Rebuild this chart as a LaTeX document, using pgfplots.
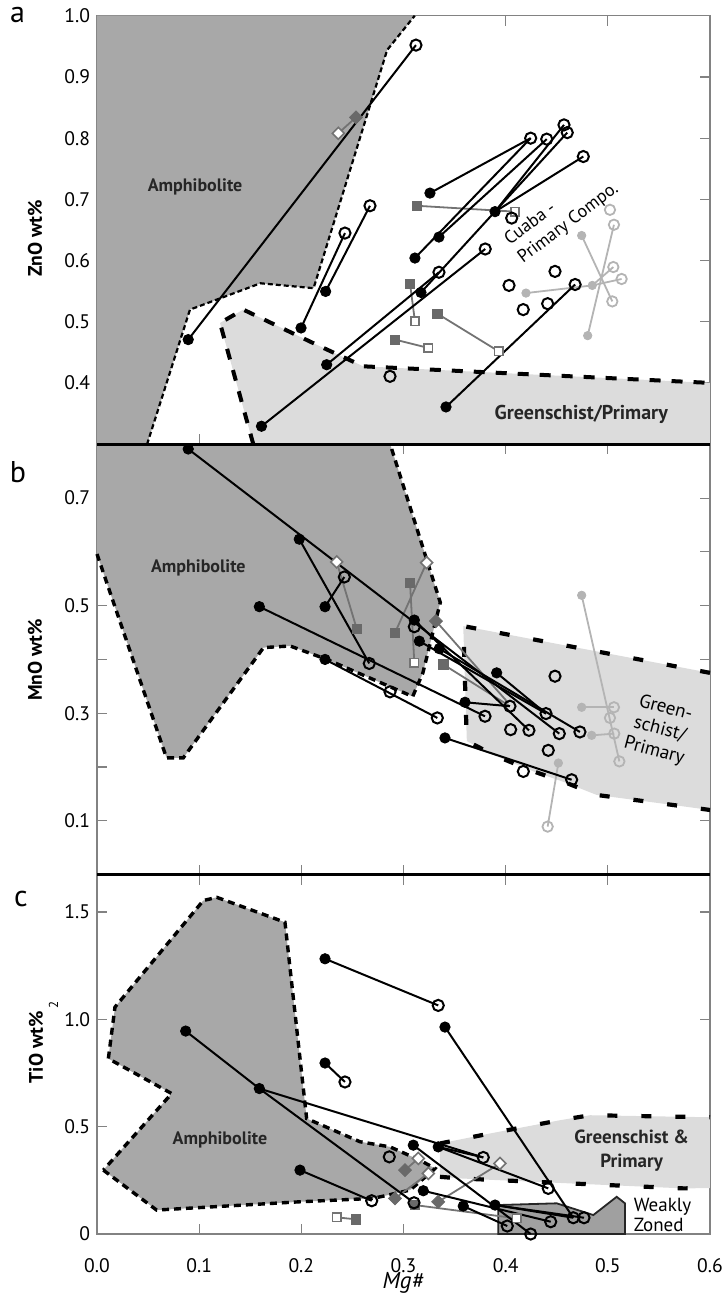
\documentclass[border=0pt]{standalone}
\usepackage{fontspec}
\setmainfont{PT Sans}
\usepackage{pgfplots}
\pgfplotsset{compat=1.18}
\definecolor{amph}{RGB}{168,168,168}
\definecolor{gsfill}{RGB}{220,220,220}
\definecolor{wzfill}{RGB}{160,160,160}
\definecolor{sqdark}{RGB}{105,105,105}
\definecolor{sqline}{RGB}{115,115,115}
\definecolor{lgray}{RGB}{180,180,180}
\definecolor{framegray}{RGB}{130,130,130}
\pgfplotsset{
 panel/.style={scale only axis, width=306.5pt, xmin=0, xmax=0.6, clip=false, anchor=south west,
   axis line style={draw=framegray, line width=0.6pt},
   tick style={draw=framegray, line width=0.6pt},
   major tick length=5pt, minor tick length=5pt,
   tick label style={font=\fontsize{9.8}{11}\selectfont},
   /pgf/number format/assume math mode=true},
 blk/.style={black, line width=1pt, no markers},
 fc/.style={only marks, mark=*, mark size=2.6pt, mark options={fill=black, draw=black}},
 oc/.style={only marks, mark=o, mark size=2.8pt, mark options={draw=black, line width=1pt}},
 gln/.style={sqline, line width=0.9pt, no markers},
 fsq/.style={only marks, mark=square*, mark size=2.3pt, mark options={fill=sqdark, draw=sqdark}},
 osq/.style={only marks, mark=square*, mark size=2.1pt, mark options={draw=sqline, fill=white, line width=0.8pt}},
 fdi/.style={only marks, mark=square*, mark size=2.3pt, mark options={fill=sqdark, draw=sqdark, rotate=45}},
 odi/.style={only marks, mark=square*, mark size=2.1pt, mark options={draw=sqline, fill=white, line width=0.8pt, rotate=45}},
 lgln/.style={lgray, line width=0.9pt, no markers},
 lfc/.style={only marks, mark=*, mark size=2.1pt, mark options={fill=lgray, draw=lgray}},
 loc/.style={only marks, mark=o, mark size=2.6pt, mark options={draw=lgray, line width=0.9pt}},
 adotA/.style={black, line width=1.1pt, dash pattern=on 2.5pt off 1.5pt, no markers},
 adash/.style={black, line width=1.7pt, dash pattern=on 3.5pt off 2.5pt, no markers},
 gdashA/.style={black, line width=2pt, dash pattern=on 5.5pt off 5.5pt, no markers},
 gdash/.style={black, line width=2.1pt, dash pattern=on 5pt off 12pt, no markers},
}
\begin{document}
\begin{tikzpicture}
\useasboundingbox (0pt,0pt) rectangle (362.5pt,-648.5pt);
% ---------------- panel a ----------------
\begin{axis}[panel, at={(48.5pt,-222.15pt)}, height=214.3pt, ymin=0.3, ymax=1.0,
  xtick={0.1,0.2,0.3,0.4,0.5}, xticklabel=\empty,
  ytick={0.4,0.5,0.6,0.7,0.8,0.9,1.0}, yticklabels={0.4,0.5,0.6,0.7,0.8,0.9,1.0}]
\addplot[fill=amph, draw=none] coordinates {(0,0.3)(0.049,0.30)(0.091,0.52)(0.16,0.563)(0.212,0.555)(0.284,0.944)(0.311,1.0)(0,1.0)} -- cycle;
\addplot[fill=gsfill, draw=none] coordinates {(0.1204,0.4982)(0.1432,0.520)(0.2183,0.46)(0.2606,0.4274)(0.3944,0.4166)(0.6,0.4003)(0.6,0.3)(0.153,0.3)} -- cycle;
\addplot[adotA] coordinates {(0.049,0.30)(0.091,0.52)(0.16,0.563)(0.212,0.555)(0.284,0.944)(0.311,1.0)};
\addplot[gdashA] coordinates {(0.153,0.30)(0.1204,0.4982)(0.1432,0.520)(0.2183,0.46)(0.2606,0.4274)(0.3944,0.4166)(0.6,0.4003)};
% gray squares
\addplot[gln] coordinates {(0.2362,0.808)(0.2535,0.834)};
\addplot[gln] coordinates {(0.3129,0.6896)(0.4091,0.680)};
\addplot[gln] coordinates {(0.3064,0.5623)(0.3112,0.5008)};
\addplot[gln] coordinates {(0.3331,0.5134)(0.3931,0.4519)};
\addplot[gln] coordinates {(0.2917,0.471)(0.3243,0.4574)};
% light gray
\addplot[lgln] coordinates {(0.4199,0.547)(0.4848,0.5595)(0.5135,0.570)};
\addplot[lgln] coordinates {(0.4744,0.641)(0.5044,0.5334)};
\addplot[lgln] coordinates {(0.4803,0.4775)(0.506,0.6586)};
\addplot[lgln] coordinates {(0.4848,0.5595)(0.5054,0.5895)};
% black lines
\addplot[blk] coordinates {(0.0893,0.471)(0.3122,0.952)};
\addplot[blk] coordinates {(0.1997,0.490)(0.2427,0.645)};
\addplot[blk] coordinates {(0.2238,0.5497)(0.2672,0.6896)};
\addplot[blk] coordinates {(0.161,0.3295)(0.380,0.619)};
\addplot[blk] coordinates {(0.2248,0.430)(0.3347,0.581)};
\addplot[blk] coordinates {(0.3259,0.7103)(0.4245,0.80)};
\addplot[blk] coordinates {(0.3112,0.6042)(0.4245,0.80)};
\addplot[blk] coordinates {(0.3347,0.6385)(0.4402,0.7984)};
\addplot[blk] coordinates {(0.3171,0.548)(0.4603,0.8091)};
\addplot[blk] coordinates {(0.3896,0.680)(0.476,0.77)};
\addplot[blk] coordinates {(0.3896,0.680)(0.4571,0.8217)};
\addplot[blk] coordinates {(0.3416,0.361)(0.468,0.561)};
% marks
\addplot[fdi] coordinates {(0.2535,0.834)};
\addplot[odi] coordinates {(0.2362,0.808)};
\addplot[fsq] coordinates {(0.3129,0.6896)(0.3064,0.5623)(0.3331,0.5134)(0.2917,0.471)};
\addplot[osq] coordinates {(0.4091,0.680)(0.3112,0.5008)(0.3931,0.4519)(0.3243,0.4574)};
\addplot[lfc] coordinates {(0.4199,0.547)(0.4848,0.5595)(0.4744,0.641)(0.4803,0.4775)};
\addplot[loc] coordinates {(0.5021,0.683)(0.506,0.6586)(0.5054,0.5895)(0.5135,0.570)(0.5044,0.5334)};
\addplot[fc] coordinates {(0.0893,0.471)(0.1997,0.490)(0.2238,0.5497)(0.161,0.3295)(0.2248,0.430)(0.3259,0.7103)(0.3112,0.6042)(0.3347,0.6385)(0.3171,0.548)(0.3896,0.680)(0.3416,0.361)};
\addplot[oc] coordinates {(0.3122,0.952)(0.2427,0.645)(0.2672,0.6896)(0.380,0.619)(0.3347,0.581)(0.4245,0.80)(0.4402,0.7984)(0.4603,0.8091)(0.4571,0.8217)(0.476,0.77)(0.468,0.561)(0.4059,0.6695)(0.4033,0.5595)(0.4483,0.5824)(0.4172,0.520)(0.4411,0.5297)(0.2868,0.411)};
\node[font=\bfseries\fontsize{9}{10}\selectfont, text=black!85] at (axis cs:0.096,0.721) {Amphibolite};
\node[font=\fontsize{9}{11}\selectfont, rotate=37, align=left, inner sep=0pt] at (axis cs:0.455,0.675) {Cuaba -\\Primary Compo.};
\node[font=\bfseries\fontsize{10}{11}\selectfont, text=black!85] at (axis cs:0.474,0.349) {Greenschist/Primary};
\end{axis}
% ---------------- panel b ----------------
\begin{axis}[panel, at={(48.5pt,-437.25pt)}, height=215.1pt, ymin=0, ymax=0.8,
  xtick={0.1,0.2,0.3,0.4,0.5}, xticklabel=\empty,
  ytick={0.1,0.3,0.5,0.7}, yticklabels={0.1,0.3,0.5,0.7}, minor ytick={0.2,0.4,0.6}]
\addplot[fill=amph, draw=none] coordinates {(0,0.596)(0.068,0.217)(0.0845,0.217)(0.163,0.422)(0.189,0.425)(0.225,0.40)(0.309,0.331)(0.319,0.375)(0.336,0.506)(0.287,0.80)(0,0.80)} -- cycle;
\addplot[fill=gsfill, draw=none] coordinates {(0.3585,0.462)(0.6,0.375)(0.6,0.12)(0.561,0.13)(0.525,0.139)(0.489,0.148)(0.46,0.17)(0.427,0.192)(0.391,0.22)(0.362,0.248)} -- cycle;
\addplot[adash] coordinates {(0,0.596)(0.068,0.217)(0.0845,0.217)(0.163,0.422)(0.189,0.425)(0.225,0.40)(0.309,0.331)(0.319,0.375)(0.336,0.506)(0.287,0.80)};
\addplot[gdash] coordinates {(0.6,0.375)(0.3585,0.462)(0.362,0.248)(0.391,0.22)(0.427,0.192)(0.46,0.17)(0.489,0.148)(0.525,0.139)(0.561,0.13)(0.6,0.12)};
\addplot[gln] coordinates {(0.2346,0.5813)(0.2542,0.4571)};
\addplot[gln] coordinates {(0.3064,0.5429)(0.3106,0.3938)};
\addplot[gln] coordinates {(0.2917,0.4497)(0.3227,0.58)};
\addplot[gln] coordinates {(0.3318,0.4713)(0.4026,0.319)};
\addplot[gln] coordinates {(0.339,0.3906)(0.4042,0.3129)};
\addplot[lgln] coordinates {(0.4744,0.5192)(0.5113,0.2104)};
\addplot[lgln] coordinates {(0.4744,0.311)(0.506,0.311)};
\addplot[lgln] coordinates {(0.4842,0.2588)(0.5063,0.262)};
\addplot[lgln] coordinates {(0.4516,0.2073)(0.4411,0.0891)};
\addplot[blk] coordinates {(0.0893,0.7913)(0.4525,0.262)};
\addplot[blk] coordinates {(0.198,0.6236)(0.2665,0.3925)};
\addplot[blk] coordinates {(0.2232,0.498)(0.2421,0.5533)};
\addplot[blk] coordinates {(0.1589,0.4981)(0.3798,0.2943)};
\addplot[blk] coordinates {(0.3602,0.3203)(0.4042,0.3129)};
\addplot[blk] coordinates {(0.2232,0.40)(0.3331,0.2912)};
\addplot[blk] coordinates {(0.3106,0.4732)(0.4228,0.2681)};
\addplot[blk] coordinates {(0.3155,0.434)(0.4395,0.2993)};
\addplot[blk] coordinates {(0.335,0.42)(0.4727,0.2651)};
\addplot[blk] coordinates {(0.3912,0.375)(0.4395,0.2993)};
\addplot[blk] coordinates {(0.3406,0.254)(0.4646,0.1762)};
\addplot[fsq] coordinates {(0.2542,0.4571)(0.3064,0.5429)(0.2917,0.4497)(0.339,0.3906)};
\addplot[fdi] coordinates {(0.3318,0.4713)};
\addplot[osq] coordinates {(0.3106,0.3938)};
\addplot[odi] coordinates {(0.2346,0.5813)(0.3227,0.58)};
\addplot[lfc] coordinates {(0.4744,0.5192)(0.4744,0.311)(0.4842,0.2588)(0.4516,0.2073)};
\addplot[loc] coordinates {(0.5113,0.2104)(0.506,0.311)(0.5063,0.262)(0.5021,0.2912)(0.4411,0.0891)};
\addplot[fc] coordinates {(0.0893,0.7913)(0.198,0.6236)(0.2232,0.498)(0.1589,0.4981)(0.3602,0.3203)(0.2232,0.40)(0.3106,0.4732)(0.3155,0.434)(0.335,0.42)(0.3912,0.375)(0.3406,0.254)};
\addplot[oc] coordinates {(0.4525,0.262)(0.2665,0.3925)(0.2421,0.5533)(0.3798,0.2943)(0.4042,0.3129)(0.3331,0.2912)(0.2868,0.3397)(0.4228,0.2681)(0.4395,0.2993)(0.4727,0.2651)(0.4646,0.1762)(0.4483,0.3688)(0.4049,0.2694)(0.4417,0.2309)(0.4173,0.1917)(0.3106,0.4608)};
\node[font=\bfseries\fontsize{9}{10}\selectfont, text=black!85] at (axis cs:0.0992,0.5708) {Amphibolite};
\node[font=\fontsize{9.5}{11}\selectfont, rotate=-15, align=center, inner sep=0pt] at (axis cs:0.551,0.269) {Green-\\schist/\\Primary};
\end{axis}
% ---------------- panel c ----------------
\begin{axis}[panel, at={(48.5pt,-617pt)}, height=179.75pt, ymin=0, ymax=1.675,
  xtick={0,0.1,0.2,0.3,0.4,0.5,0.6}, xticklabels={0.0,0.1,0.2,0.3,0.4,0.5,0.6},
  xticklabel style={yshift=-8.5pt},
  ytick={0,0.5,1.0,1.5}, yticklabels={0,0.5,1.0,1.5}]
\addplot[fill=amph, draw=none] coordinates {(0.0062,0.2977)(0.0584,0.1116)(0.1987,0.1502)(0.2704,0.166)(0.3064,0.2047)(0.3292,0.2977)(0.3308,0.3056)(0.3161,0.344)(0.2868,0.406)(0.2574,0.43)(0.2052,0.538)(0.184,1.4526)(0.1172,1.5688)(0.104,1.5535)(0.0176,1.0572)(0.0111,0.8172)(0.0731,0.6544)} -- cycle;
\addplot[fill=gsfill, draw=none] coordinates {(0.3357,0.4219)(0.3847,0.4684)(0.4532,0.5302)(0.4825,0.5535)(0.6,0.544)(0.6,0.214)(0.5739,0.2126)(0.463,0.2358)(0.3553,0.259)(0.3357,0.2665)} -- cycle;
\addplot[adash] coordinates {(0.0062,0.2977)(0.0584,0.1116)(0.1987,0.1502)(0.2704,0.166)(0.3064,0.2047)(0.3292,0.2977)(0.3308,0.3056)(0.3161,0.344)(0.2868,0.406)(0.2574,0.43)(0.2052,0.538)(0.184,1.4526)(0.1172,1.5688)(0.104,1.5535)(0.0176,1.0572)(0.0111,0.8172)(0.0731,0.6544)(0.0062,0.2977)};
\addplot[gdash] coordinates {(0.3357,0.4219)(0.3847,0.4684)(0.4532,0.5302)(0.4825,0.5535)(0.6,0.544)};
\addplot[gdash] coordinates {(0.3357,0.2665)(0.3553,0.259)(0.463,0.2358)(0.5739,0.2126)(0.6,0.214)};
\addplot[fill=wzfill, draw=black!85, line width=0.9pt] coordinates {(0.3928,0)(0.3928,0.135)(0.45,0.143)(0.4858,0.0884)(0.5087,0.1735)(0.5168,0.1428)(0.5168,0)} -- cycle;
\addplot[gln] coordinates {(0.2346,0.0777)(0.2535,0.0684)};
\addplot[gln] coordinates {(0.3015,0.2977)(0.3145,0.352)};
\addplot[gln] coordinates {(0.2917,0.166)(0.3243,0.282)};
\addplot[gln] coordinates {(0.334,0.15)(0.3944,0.3288)};
\addplot[gln] coordinates {(0.3112,0.1349)(0.4107,0.0729)};
\addplot[blk] coordinates {(0.0868,0.9456)(0.1589,0.6777)(0.3103,0.1456)};
\addplot[blk] coordinates {(0.1589,0.6777)(0.3781,0.3567)};
\addplot[blk] coordinates {(0.334,0.406)(0.3781,0.3567)};
\addplot[blk] coordinates {(0.334,0.406)(0.4417,0.2126)};
\addplot[blk] coordinates {(0.2232,1.2823)(0.334,1.0651)};
\addplot[blk] coordinates {(0.2232,0.7967)(0.2427,0.7084)};
\addplot[blk] coordinates {(0.3406,0.9642)(0.4662,0.0758)};
\addplot[blk] coordinates {(0.1987,0.2977)(0.2689,0.155)};
\addplot[blk] coordinates {(0.3096,0.414)(0.4245,0.0)};
\addplot[blk] coordinates {(0.3194,0.2016)(0.4441,0.0572)};
\addplot[blk] coordinates {(0.3585,0.1302)(0.4016,0.0372)};
\addplot[blk] coordinates {(0.3896,0.1349)(0.4767,0.0758)};
\addplot[blk] coordinates {(0.3896,0.1349)(0.4662,0.0758)};
\addplot[fsq] coordinates {(0.2535,0.0684)(0.3112,0.1349)};
\addplot[osq] coordinates {(0.2346,0.0777)(0.4107,0.0729)};
\addplot[fdi] coordinates {(0.3015,0.2977)(0.2917,0.166)(0.334,0.15)};
\addplot[odi] coordinates {(0.3145,0.352)(0.3243,0.282)(0.3944,0.3288)};
\addplot[fc] coordinates {(0.0868,0.9456)(0.1589,0.6777)(0.2232,1.2823)(0.2232,0.7967)(0.1987,0.2977)(0.3406,0.9642)(0.3096,0.414)(0.334,0.406)(0.3194,0.2016)(0.3585,0.1302)(0.3896,0.1349)};
\addplot[oc] coordinates {(0.2427,0.7084)(0.334,1.0651)(0.2689,0.155)(0.2861,0.3595)(0.3103,0.1456)(0.3781,0.3567)(0.4417,0.2126)(0.4441,0.0572)(0.4016,0.0372)(0.4245,0.0)(0.4662,0.0758)(0.4767,0.0758)};
\node[font=\bfseries\fontsize{9}{10}\selectfont, text=black!85] at (axis cs:0.1204,0.437) {Amphibolite};
\node[font=\bfseries\fontsize{9.5}{12}\selectfont, text=black!85, align=center] at (axis cs:0.5233,0.388) {Greenschist \&\\Primary};
\node[font=\fontsize{9.5}{10}\selectfont, align=left, anchor=west, inner sep=0pt] at (axis cs:0.525,0.088) {Weakly\\Zoned};
\end{axis}
% separators
\draw[line width=1.8pt] (48.5pt,-222.15pt) -- (355pt,-222.15pt);
\draw[line width=1.8pt] (48.5pt,-437.25pt) -- (355pt,-437.25pt);
% labels
\node[font=\fontsize{15}{15}\selectfont] at (8.75pt,-7.5pt) {a};
\node[font=\fontsize{15}{15}\selectfont] at (9pt,-236pt) {b};
\node[font=\fontsize{15}{15}\selectfont] at (10.5pt,-449.6pt) {c};
\node[rotate=90, font=\bfseries\fontsize{9.8}{10}\selectfont] at (17.5pt,-119.2pt) {ZnO wt\%};
\node[rotate=90, font=\bfseries\fontsize{9.8}{10}\selectfont] at (17.5pt,-330pt) {MnO wt\%};
\node[rotate=90, font=\bfseries\fontsize{9.8}{10}\selectfont] at (18pt,-523.7pt) {TiO wt\%};
\node[rotate=90, font=\fontsize{6.5}{7}\selectfont] at (26.7pt,-502.5pt) {2};
\node[font=\itshape\fontsize{11.5}{12}\selectfont] at (201.5pt,-641.5pt) {Mg\#};
\end{tikzpicture}
\end{document}
